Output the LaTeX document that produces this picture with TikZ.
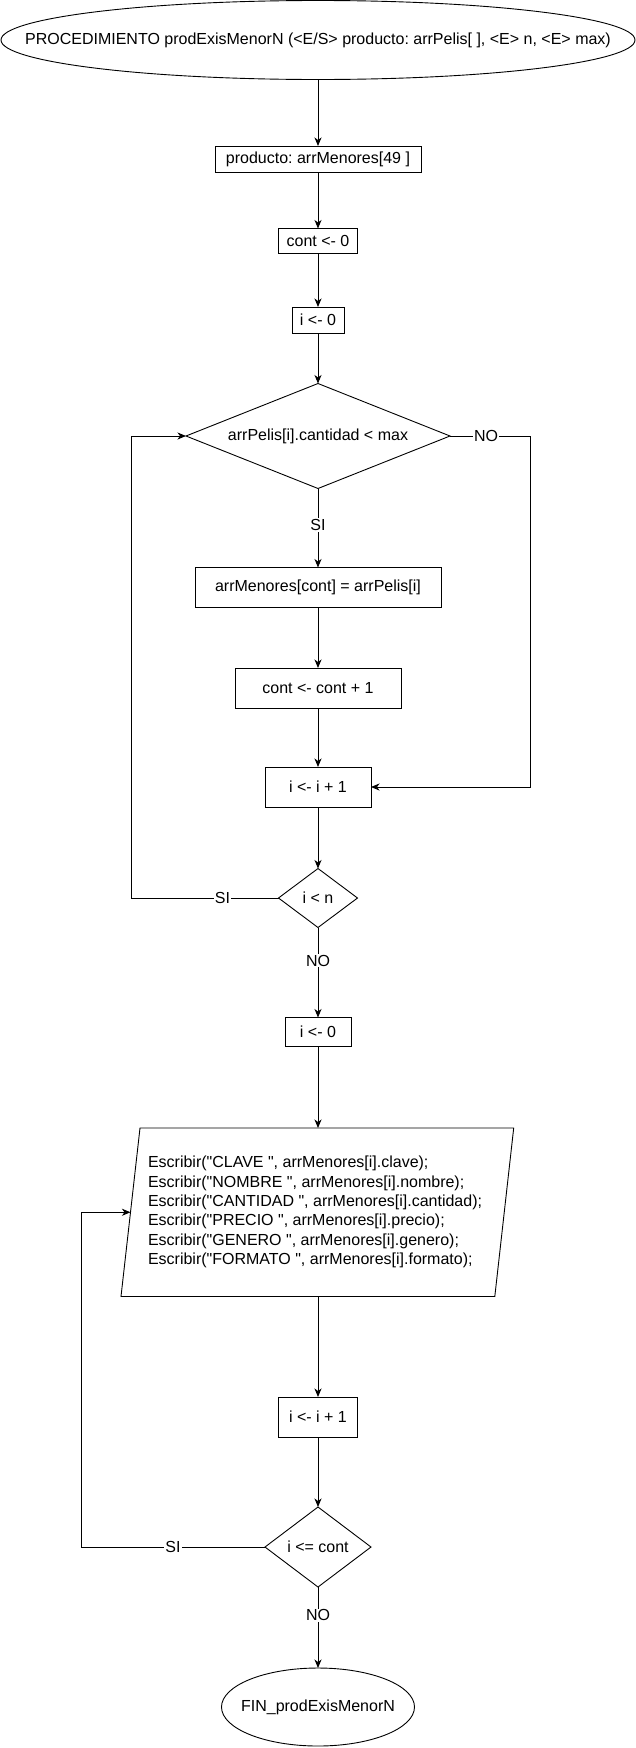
\documentclass[tikz,border=0pt]{standalone}
\usepackage{fontspec}
\setmainfont{Liberation Sans}[Ligatures=TeXOff]
\frenchspacing
\usetikzlibrary{shapes.geometric,arrows.meta,calc}
\begin{document}
\begin{tikzpicture}[x=1pt,y=-1pt,
  font=\fontsize{16}{19.4}\selectfont\frenchspacing,
  every node/.style={inner sep=0pt, outer sep=0pt},
  proc/.style={draw, rectangle, line width=0.9pt, inner sep=0pt},
  decis/.style={draw, diamond, line width=0.9pt, inner sep=0pt},
  term/.style={draw, ellipse, line width=0.9pt, inner sep=0pt},
  conn/.style={line width=0.9pt, -{Stealth[length=8.5pt,width=7pt,inset=2.5pt]}},
  lbl/.style={fill=white, inner sep=1pt}]
\fill[white] (0,0) rectangle (636,1748);
\useasboundingbox (0,0) rectangle (636,1748);

% terminal start
\node[term, minimum width=634pt, minimum height=79pt] (start) at (318,40) {};
\node (starttxt) at (start.center) {PROCEDIMIENTO prodExisMenorN (<E/S> producto: arrPelis[ ], <E> n, <E> max)};

\node[proc, minimum width=206pt, minimum height=26pt] (prod) at (318,159) {producto: arrMenores[49 ]};
\node[proc, minimum width=79pt, minimum height=25pt] (c0) at (318,241) {cont <- 0};
\node[proc, minimum width=52pt, minimum height=26pt] (i0) at (318,320) {i <- 0};
\node[decis, minimum width=264pt, minimum height=105pt, aspect=2.5] (d1) at (318,436) {arrPelis[i].cantidad < max};
\node[proc, minimum width=246pt, minimum height=40pt] (mem) at (318,587.5) {arrMenores[cont] = arrPelis[i]};
\node[proc, minimum width=166pt, minimum height=40pt] (cinc) at (318,688) {cont <- cont + 1};
\node[proc, minimum width=106pt, minimum height=40pt] (iinc) at (318,787) {i <- i + 1};
\node[decis, minimum width=79pt, minimum height=59pt, aspect=1.34] (d2) at (318,898) {i < n};
\node[proc, minimum width=66pt, minimum height=29pt] (i0b) at (318,1032) {i <- 0};

% parallelogram (output)
\coordinate (pTL) at (140,1128);
\coordinate (pTR) at (513.7,1128);
\coordinate (pBR) at (494.8,1296.5);
\coordinate (pBL) at (121,1296.5);
\draw[line width=0.9pt] (pTL) -- (pTR) -- (pBR) -- (pBL) -- cycle;
\node[align=left, anchor=west] (ptxt) at (148,1212) {Escribir("CLAVE ", arrMenores[i].clave);\\
Escribir("NOMBRE ", arrMenores[i].nombre);\\
Escribir("CANTIDAD ", arrMenores[i].cantidad);\\
Escribir("PRECIO ", arrMenores[i].precio);\\
Escribir("GENERO ", arrMenores[i].genero);\\
Escribir("FORMATO ", arrMenores[i].formato);};
\coordinate (ptop) at (318,1128);
\coordinate (pbot) at (318,1296.5);
\coordinate (pin) at ($(pTL)!0.5!(pBL)$);

\node[proc, minimum width=79pt, minimum height=40pt] (iinc2) at (318,1417) {i <- i + 1};
\node[decis, minimum width=106pt, minimum height=80pt, aspect=1.32] (d3) at (318,1547) {i <= cont};
\node[term, minimum width=193pt, minimum height=78pt] (fin) at (318,1707) {};
\node (fintxt) at (fin.center) {FIN\_prodExisMenorN};

% routing coordinates
\coordinate (rx) at (530,0);
\coordinate (lx) at (131,0);
\coordinate (lx2) at (81,0);

% connectors
\draw[conn] (start) -- (prod);
\draw[conn] (prod) -- (c0);
\draw[conn] (c0) -- (i0);
\draw[conn] (i0) -- (d1);
\draw[conn] (d1) -- node[lbl, pos=0.46]{SI} (mem);
\draw[conn] (mem) -- (cinc);
\draw[conn] (cinc) -- (iinc);
\draw[conn] (d1.east) -- node[lbl, pos=0.45]{NO} (d1.east -| rx) |- (iinc.east);
\draw[conn] (iinc) -- (d2);
\draw[conn] (d2.west) -- node[lbl, pos=0.38]{SI} (d2.west -| lx) |- (d1.west);
\draw[conn] (d2) -- node[lbl, pos=0.37]{NO} (i0b);
\draw[conn] (i0b) -- (ptop);
\draw[conn] (pbot) -- (iinc2);
\draw[conn] (iinc2) -- (d3);
\draw[conn] (d3.west) -- node[lbl, pos=0.5]{SI} (d3.west -| lx2) |- (pin);
\draw[conn] (d3) -- node[lbl, pos=0.35]{NO} (fin);
\end{tikzpicture}
\end{document}
